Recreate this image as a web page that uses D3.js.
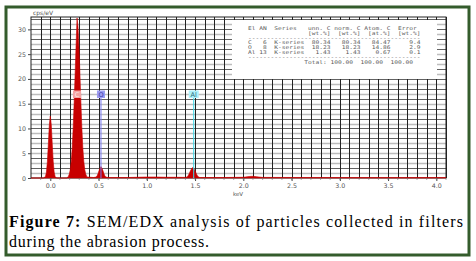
<!DOCTYPE html>
<html>
<head>
<meta charset="utf-8">
<script src="https://cdn.jsdelivr.net/npm/d3@7"></script>
<style>
  body { margin: 0; background: #fff; }
  svg { display: block; }
</style>
</head>
<body>
<svg id="main" width="476" height="261"></svg>
<script>
// spectrum (keV, cps/eV)
const energy = [-0.2, -0.07, -0.05, -0.04, -0.03, -0.02, -0.01, 0.0, 0.01, 0.02, 0.03, 0.04, 0.05, 0.065,
  0.17, 0.187, 0.197, 0.207, 0.217, 0.227, 0.237, 0.247, 0.257, 0.267, 0.277, 0.287, 0.297, 0.307, 0.317,
  0.327, 0.337, 0.347, 0.357, 0.367, 0.38, 0.45, 0.475, 0.485, 0.495, 0.505, 0.515, 0.525, 0.535, 0.545,
  0.555, 0.565, 0.575, 0.6, 0.8, 0.9, 1.0, 1.1, 1.2, 1.3, 1.4, 1.416, 1.426, 1.436, 1.446, 1.456, 1.466,
  1.476, 1.486, 1.496, 1.506, 1.516, 1.526, 1.536, 1.546, 1.556, 1.6, 1.8, 2.0, 2.06, 2.1, 2.14, 2.2,
  2.5, 3.0, 3.5, 4.0, 4.1];
const counts = [0, 0, 0.3, 1.2, 3.4, 7.0, 10.8, 12.5, 10.8, 7.0, 3.4, 1.2, 0.3, 0,
  0, 0.3, 0.8, 1.7, 3.4, 6.1, 10.1, 15.3, 21.0, 26.8, 32.3, 30.6, 26.5, 21.0, 15.3,
  10.1, 6.1, 3.4, 1.7, 0.8, 0.2, 0.1, 0.2, 0.45, 0.9, 1.5, 2.0, 2.3, 2.0, 1.5,
  0.9, 0.45, 0.2, 0.1, 0.1, 0.15, 0.2, 0.2, 0.15, 0.15, 0.12, 0.2, 0.42, 0.75, 1.18, 1.6, 1.95,
  2.1, 1.95, 1.6, 1.18, 0.75, 0.42, 0.2, 0.12, 0.1, 0.1, 0.1, 0.15, 0.3, 0.35, 0.25, 0.12,
  0.1, 0.08, 0.08, 0.08, 0.08];

const xTicks = [0.0, 0.5, 1.0, 1.5, 2.0, 2.5, 3.0, 3.5, 4.0];
const yTicks = [0, 5, 10, 15, 20, 25, 30];

// element markers
const elements = ["C", "O", "Al"];
const elementKeV = [0.277, 0.525, 1.486];
const elementFill = ["#f4a3a3", "#9c9cf2", "#aef0fa"];
const elementText = ["#fde6e6", "#3a3aa8", "#2a6a78"];
const elementLine = [null, "#7878f0", "#3cd8ea"];

// quantification table
const tableRows = [
  "El AN  Series   unn. C norm. C Atom. C  Error",
  "                [wt.%]  [wt.%]  [at.%]  [wt.%]",
  "----------------------------------------------",
  "C   6  K-series  80.34   80.34   84.47     9.4",
  "O   8  K-series  18.23   18.23   14.86     2.9",
  "Al 13  K-series   1.43    1.43    0.67     0.1",
  "----------------------------------------------",
  "               Total: 100.00  100.00  100.00"
];

const svg = d3.select("#main");

// outer frame
svg.append("rect")
  .attr("x", 6).attr("y", 7).attr("width", 463).attr("height", 248)
  .attr("fill", "#fff").attr("stroke", "#345c2c").attr("stroke-width", 3);

const x = d3.scaleLinear().domain([-0.2, 4.1]).range([31, 446]);
const y = d3.scaleLinear().domain([0, 32.5]).range([178, 17]);

const grid = svg.append("g");
// horizontal grid: grey and dark lines alternate
grid.selectAll(".hg")
  .data(d3.range(1, 33, 1))
  .enter().append("line")
  .attr("x1", x(-0.2)).attr("x2", x(4.1))
  .attr("y1", d => Math.round(y(d)) + 0.5).attr("y2", d => Math.round(y(d)) + 0.5)
  .attr("stroke", d => d % 2 ? "#bdbdbd" : "#3a3a3a")
  .attr("stroke-width", d => d % 2 ? 1.6 : 0.8);
// vertical grid
grid.selectAll(".vg")
  .data(d3.range(-0.1, 4.15, 0.1))
  .enter().append("line")
  .attr("x1", d => Math.round(x(d)) + 0.5).attr("x2", d => Math.round(x(d)) + 0.5)
  .attr("y1", y(0)).attr("y2", y(32.5))
  .attr("stroke", "#222").attr("stroke-width", 1);

// frame of plot
svg.append("rect")
  .attr("x", x(-0.2)).attr("y", y(32.5))
  .attr("width", x(4.1) - x(-0.2)).attr("height", y(0) - y(32.5))
  .attr("fill", "none").attr("stroke", "#222").attr("stroke-width", 1);

// table panel
const tb = svg.append("g");
tb.append("rect")
  .attr("x", 232).attr("y", 20).attr("width", 205).attr("height", 59)
  .attr("fill", "#fff");
tb.selectAll("text")
  .data(tableRows)
  .enter().append("text")
  .attr("x", 248)
  .attr("y", (d, i) => 30 + i * 4.8)
  .attr("font-family", "DejaVu Sans Mono")
  .attr("font-size", 5)
  .attr("fill", "#5a5a5a")
  .attr("textLength", d => d.length * 3.75)
  .attr("lengthAdjust", "spacingAndGlyphs")
  .attr("xml:space", "preserve")
  .style("white-space", "pre")
  .text(d => d);

// spectrum
const pts = energy.map((e, i) => [e, counts[i]]);
const area = d3.area()
  .x(d => x(d[0]))
  .y0(y(0))
  .y1(d => y(d[1]));
svg.append("path")
  .datum(pts)
  .attr("d", area)
  .attr("fill", "#c80000")
  .attr("stroke", "#c80000")
  .attr("stroke-width", 0.6);

// element markers
const mk = svg.append("g");
elements.forEach((el, i) => {
  const cx = x(elementKeV[i]);
  const w = el.length > 1 ? 10 : 8;
  if (elementLine[i]) {
    mk.append("line")
      .attr("x1", cx).attr("x2", cx)
      .attr("y1", 98).attr("y2", y(0))
      .attr("stroke", elementLine[i]).attr("stroke-width", 1);
  }
  mk.append("rect")
    .attr("x", cx - w / 2).attr("y", 90.5)
    .attr("width", w).attr("height", 7.5)
    .attr("fill", elementFill[i]);
  mk.append("text")
    .attr("x", cx).attr("y", 96.5)
    .attr("text-anchor", "middle")
    .attr("font-family", "DejaVu Sans")
    .attr("font-size", 6.5)
    .attr("fill", elementText[i])
    .text(el);
});

// axes
const yAxis = svg.append("g")
  .attr("transform", `translate(${x(-0.2)},0)`)
  .call(d3.axisLeft(y).tickValues(yTicks).tickSize(3).tickPadding(2).tickFormat(d3.format("d")));
const xAxis = svg.append("g")
  .attr("transform", `translate(0,${y(0)})`)
  .call(d3.axisBottom(x).tickValues(xTicks).tickSize(3).tickPadding(3).tickFormat(d3.format(".1f")));
[yAxis, xAxis].forEach(a => {
  a.select(".domain").remove();
  a.selectAll("line").attr("stroke", "#444");
  a.selectAll("text").attr("font-family", "DejaVu Sans").attr("font-size", 6.3).attr("fill", "#555");
});
svg.append("g")
  .selectAll("line")
  .data(d3.range(-0.1, 4.15, 0.1))
  .enter().append("line")
  .attr("x1", d => x(d)).attr("x2", d => x(d))
  .attr("y1", y(0)).attr("y2", y(0) + 2)
  .attr("stroke", "#777").attr("stroke-width", 0.6);

svg.append("text")
  .attr("x", 33).attr("y", 15)
  .attr("font-family", "DejaVu Sans").attr("font-size", 6).attr("fill", "#555")
  .text("cps/eV");
svg.append("text")
  .attr("x", 238).attr("y", 196)
  .attr("text-anchor", "middle")
  .attr("font-family", "DejaVu Sans").attr("font-size", 5.5).attr("fill", "#555")
  .text("keV");

// caption
const cap1 = svg.append("text")
  .attr("x", 9).attr("y", 227)
  .attr("font-family", "Liberation Serif").attr("font-size", 16).attr("fill", "#000")
  .attr("textLength", 454).attr("lengthAdjust", "spacing");
cap1.append("tspan").attr("font-weight", "bold").text("Figure 7: ");
cap1.append("tspan").text("SEM/EDX analysis of particles collected in filters");
svg.append("text")
  .attr("x", 9).attr("y", 247)
  .attr("font-family", "Liberation Serif").attr("font-size", 16).attr("fill", "#000")
  .attr("textLength", 200).attr("lengthAdjust", "spacing")
  .text("during the abrasion process.");
</script>
</body>
</html>
